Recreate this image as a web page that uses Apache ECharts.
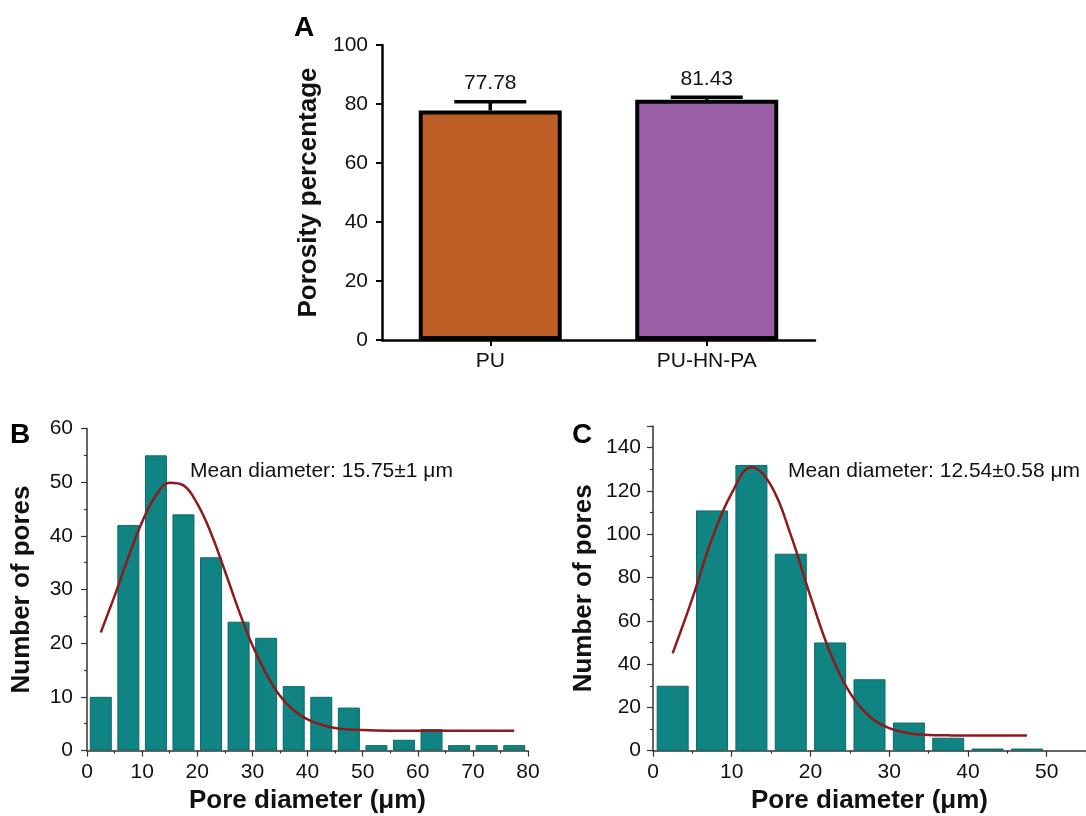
<!DOCTYPE html>
<html>
<head>
<meta charset="utf-8">
<script src="https://cdn.jsdelivr.net/npm/echarts@6/dist/echarts.min.js"></script>
<style>
html,body{margin:0;padding:0;background:#fff;}
#chart{width:1086px;height:816px;}
</style>
</head>
<body>
<div id="chart"></div>
<script>
// ---------- Panel A data ----------
var categoriesA = ['PU', 'PU-HN-PA'];
var porosityA = [77.78, 81.43];
var errorA = [3.0, 0.9];
var yTicksA = [0, 20, 40, 60, 80, 100];

// ---------- Panel B data ----------
var binCentersB = [2.5, 7.5, 12.5, 17.5, 22.5, 27.5, 32.5, 37.5, 42.5, 47.5, 52.5, 57.5, 62.5, 67.5, 72.5, 77.5];
var countsB = [10, 42, 55, 44, 36, 24, 21, 12, 10, 8, 1, 2, 4, 1, 1, 1];
var curveBx = [2.5, 5, 7.5, 10, 12.5, 15, 17.5, 20, 22.5, 25, 27.5, 30, 32.5, 35, 37.5, 40, 42.5, 45, 47.5, 50, 55, 60, 65, 70, 75, 77.5];
var curveBy = [22.0, 28.8, 36.0, 42.6, 47.5, 49.9, 49.4, 46.0, 40.5, 33.5, 26.2, 19.6, 14.3, 10.2, 7.5, 5.8, 4.8, 4.2, 3.9, 3.8, 3.7, 3.7, 3.7, 3.7, 3.7, 3.7];
var meanTextB = 'Mean diameter: 15.75\u00b11 \u03bcm';

// ---------- Panel C data ----------
var binCentersC = [2.5, 7.5, 12.5, 17.5, 22.5, 27.5, 32.5, 37.5, 42.5, 47.5];
var countsC = [30, 111, 132, 91, 50, 33, 13, 6, 1, 1];
var curveCx = [2.5, 5, 7.5, 10, 12.5, 15, 17.5, 20, 22.5, 25, 27.5, 30, 32.5, 35, 37.5, 40, 42.5, 45, 47.5];
var curveCy = [45, 70.4, 98.0, 119.0, 131, 122.5, 99.7, 71.3, 45.4, 26.8, 15.8, 10.4, 8.1, 7.3, 7.1, 7.0, 7.0, 7.0, 7.0];
var meanTextC = 'Mean diameter: 12.54\u00b10.58 \u03bcm';

// ---------- styles ----------
var FONT = "'Liberation Sans', Arial, Helvetica, sans-serif";
var barColorsA = ['#bf5f28', '#9a5ea6'];
var TEAL = '#108383';
var TEAL_EDGE = '#0b6a6a';
var CURVE = '#8c1b1b';

function zip(a, b) { return a.map(function (v, i) { return [v, b[i]]; }); }

var chart = echarts.init(document.getElementById('chart'), null, { renderer: 'canvas' });

var labelStyle = { fontSize: 21, color: '#111', fontFamily: FONT };
var nameStyle = { fontSize: 26, fontWeight: 'bold', color: '#111', fontFamily: FONT };

function histX(idx, max, gap) {
  return {
    type: 'value', gridIndex: idx, min: 0, max: max, interval: 10,
    axisLine: { show: true, lineStyle: { color: '#333', width: 1.5 } },
    axisTick: { show: true, length: 6, lineStyle: { color: '#333', width: 1.2 } },
    minorTick: { show: true, splitNumber: 2, length: 3, lineStyle: { color: '#333', width: 1.2 } },
    splitLine: { show: false }, minorSplitLine: { show: false },
    axisLabel: Object.assign({ margin: 11, showMaxLabel: max % 10 === 0 }, labelStyle),
    name: 'Pore diameter (\u03bcm)', nameLocation: 'middle', nameGap: gap, nameTextStyle: nameStyle
  };
}
function histY(idx, max, interval, gap, margin) {
  return {
    type: 'value', gridIndex: idx, min: 0, max: max, interval: interval,
    axisLine: { show: true, lineStyle: { color: '#333', width: 1.5 } },
    axisTick: { show: true, length: 6, lineStyle: { color: '#333', width: 1.2 } },
    minorTick: { show: true, splitNumber: 2, length: 3, lineStyle: { color: '#333', width: 1.2 } },
    splitLine: { show: false }, minorSplitLine: { show: false },
    axisLabel: Object.assign({ margin: margin, showMaxLabel: max % interval === 0 }, labelStyle),
    name: 'Number of pores', nameLocation: 'middle', nameGap: gap, nameTextStyle: nameStyle
  };
}

var option = {
  animation: false,
  backgroundColor: '#fff',
  textStyle: { fontFamily: FONT },
  grid: [
    { left: 382, right: 271, top: 45, bottom: 476 },
    { left: 87, right: 558, top: 428.5, bottom: 65.5 },
    { left: 653, right: -11, top: 426, bottom: 65.3 }
  ],
  xAxis: [
    {
      type: 'category', gridIndex: 0, data: categoriesA,
      axisLine: { show: true, lineStyle: { color: '#000', width: 2.5 } },
      axisTick: { show: true, alignWithLabel: true, length: 6, lineStyle: { color: '#000', width: 2 } },
      axisLabel: Object.assign({ margin: 11 }, labelStyle),
      splitLine: { show: false }
    },
    histX(1, 80, 37),
    histX(2, 55, 37)
  ],
  yAxis: [
    {
      type: 'value', gridIndex: 0, min: yTicksA[0], max: yTicksA[yTicksA.length - 1], interval: 20,
      axisLine: { show: true, lineStyle: { color: '#000', width: 2.5 } },
      axisTick: { show: true, length: 6, lineStyle: { color: '#000', width: 2 } },
      axisLabel: Object.assign({ margin: 14 }, labelStyle),
      splitLine: { show: false },
      name: 'Porosity percentage', nameLocation: 'middle', nameGap: 60, nameTextStyle: nameStyle
    },
    histY(1, 60, 10, 52, 14),
    histY(2, 150, 20, 56, 12)
  ],
  graphic: [
    { type: 'text', x: 304, y: 28, style: { text: 'A', fontSize: 28, fontWeight: 'bold', fontFamily: FONT, fill: '#000', align: 'center', verticalAlign: 'middle' } },
    { type: 'text', x: 20, y: 435, style: { text: 'B', fontSize: 28, fontWeight: 'bold', fontFamily: FONT, fill: '#000', align: 'center', verticalAlign: 'middle' } },
    { type: 'text', x: 582, y: 435, style: { text: 'C', fontSize: 28, fontWeight: 'bold', fontFamily: FONT, fill: '#000', align: 'center', verticalAlign: 'middle' } },
    { type: 'text', x: 190, y: 471, style: { text: meanTextB, fontSize: 21, fontFamily: FONT, fill: '#111', align: 'left', verticalAlign: 'middle' } },
    { type: 'text', x: 788, y: 471, style: { text: meanTextC, fontSize: 21, fontFamily: FONT, fill: '#111', align: 'left', verticalAlign: 'middle' } }
  ],
  series: [
    {
      type: 'bar', xAxisIndex: 0, yAxisIndex: 0, barWidth: 143,
      data: porosityA.map(function (v, i) { return { value: v, itemStyle: { color: barColorsA[i] } }; }),
      itemStyle: { borderColor: '#000', borderWidth: 4 }
    },
    {
      type: 'custom', xAxisIndex: 0, yAxisIndex: 0, z: 5,
      data: porosityA.map(function (v, i) { return [i, v, errorA[i]]; }),
      renderItem: function (params, api) {
        var xi = api.value(0), v = api.value(1), e = api.value(2);
        var base = api.coord([xi, v]);
        var top = api.coord([xi, v + e]);
        var hw = 36;
        return {
          type: 'group',
          children: [
            { type: 'line', shape: { x1: base[0], y1: base[1], x2: top[0], y2: top[1] }, style: { stroke: '#000', lineWidth: 3.5 } },
            { type: 'line', shape: { x1: top[0] - hw, y1: top[1], x2: top[0] + hw, y2: top[1] }, style: { stroke: '#000', lineWidth: 3.5 } },
            { type: 'text', x: top[0], y: top[1] - 18, style: { text: v.toFixed(2), fill: '#111', fontSize: 21, fontFamily: FONT, align: 'center', verticalAlign: 'middle' } }
          ]
        };
      }
    },
    {
      type: 'bar', xAxisIndex: 1, yAxisIndex: 1, barWidth: 22,
      data: zip(binCentersB, countsB),
      itemStyle: { color: TEAL, borderColor: TEAL_EDGE, borderWidth: 1 }
    },
    {
      type: 'line', xAxisIndex: 1, yAxisIndex: 1, z: 4, smooth: 0.4, symbol: 'none',
      data: zip(curveBx, curveBy),
      lineStyle: { color: CURVE, width: 2.5 }
    },
    {
      type: 'bar', xAxisIndex: 2, yAxisIndex: 2, barWidth: 32,
      data: zip(binCentersC, countsC),
      itemStyle: { color: TEAL, borderColor: TEAL_EDGE, borderWidth: 1 }
    },
    {
      type: 'line', xAxisIndex: 2, yAxisIndex: 2, z: 4, smooth: 0.4, symbol: 'none',
      data: zip(curveCx, curveCy),
      lineStyle: { color: CURVE, width: 2.5 }
    }
  ]
};

chart.setOption(option);
</script>
</body>
</html>
